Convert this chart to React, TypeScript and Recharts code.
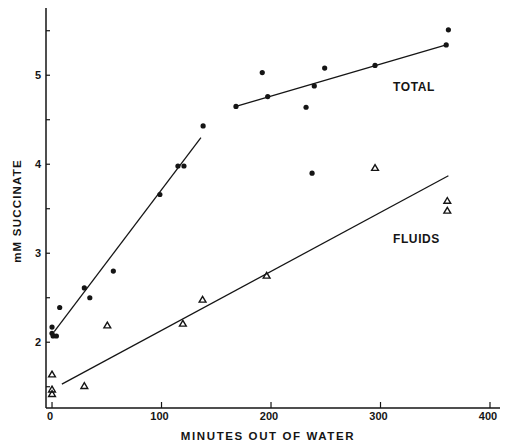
import { ComposedChart, Scatter, Line, XAxis, YAxis } from "recharts";

// total succinate (filled dots)
const totalPoints = [
  { x: 0, y: 2.1 },
  { x: 1, y: 2.07 },
  { x: 4, y: 2.07 },
  { x: 0, y: 2.17 },
  { x: 7, y: 2.39 },
  { x: 29.5, y: 2.61 },
  { x: 34.5, y: 2.5 },
  { x: 56, y: 2.8 },
  { x: 98.5, y: 3.66 },
  { x: 115, y: 3.98 },
  { x: 120.5, y: 3.98 },
  { x: 138, y: 4.43 },
  { x: 168, y: 4.65 },
  { x: 192, y: 5.03 },
  { x: 197, y: 4.76 },
  { x: 232, y: 4.64 },
  { x: 237.5, y: 3.9 },
  { x: 239.5, y: 4.88 },
  { x: 249, y: 5.08 },
  { x: 295, y: 5.11 },
  { x: 360, y: 5.34 },
  { x: 362, y: 5.51 },
];

// fluids (open triangles)
const fluidPoints = [
  { x: 0, y: 1.64 },
  { x: 0, y: 1.47 },
  { x: 0, y: 1.42 },
  { x: 29.5, y: 1.51 },
  { x: 50.5, y: 2.19 },
  { x: 119.5, y: 2.21 },
  { x: 137.5, y: 2.48 },
  { x: 196, y: 2.75 },
  { x: 295, y: 3.96 },
  { x: 361, y: 3.59 },
  { x: 361, y: 3.48 },
];

// fitted lines
const totalEarlyLine = [
  { x: 2, y: 2.12 },
  { x: 136, y: 4.3 },
];
const totalLateLine = [
  { x: 168, y: 4.65 },
  { x: 360, y: 5.34 },
];
const fluidsLine = [
  { x: 9, y: 1.53 },
  { x: 362, y: 3.87 },
];

const xTicks = [0, 100, 200, 300, 400];
const topTicks = [100, 200, 300];
const yTicks = [1.5, 2, 2.5, 3, 3.5, 4, 4.5, 5, 5.5];
const xDomain = [-5.5, 413.7];
const yDomain = [1.261, 5.761];

const INK = "#151515";
const FONT = "'Liberation Sans', Arial, sans-serif";

const Dot = (p: any) => <circle cx={p.cx} cy={p.cy} r={2.6} fill={INK} />;
const Tri = (p: any) => (
  <path
    d={`M${p.cx},${p.cy - 3.2} L${p.cx + 3.4},${p.cy + 2.6} L${p.cx - 3.4},${p.cy + 2.6} Z`}
    fill="none"
    stroke={INK}
    strokeWidth={1.4}
  />
);

const LeftTick = (p: any) => {
  const v = p.payload.value;
  const ax = p.x + 5;
  return (
    <g>
      <line x1={ax} x2={ax + 4} y1={p.y} y2={p.y} stroke={INK} strokeWidth={1.2} />
      {Number.isInteger(v) && (
        <text x={p.x} y={p.y} dy="0.35em" textAnchor="end" fontSize={11} fontWeight="bold" fill={INK} fontFamily={FONT}>
          {v}
        </text>
      )}
    </g>
  );
};

const RightTick = (p: any) => (
  <line x1={p.x} x2={p.x - 5} y1={p.y} y2={p.y} stroke={INK} strokeWidth={1.2} />
);

const BottomTick = (p: any) => (
  <g>
    <line x1={p.x} x2={p.x} y1={p.y - 4} y2={p.y - 10} stroke={INK} strokeWidth={1.2} />
    <text x={p.x - 2} y={p.y} dy="0.72em" textAnchor="middle" fontSize={11} fontWeight="bold" fill={INK} fontFamily={FONT}>
      {p.payload.value}
    </text>
  </g>
);

const TopTick = (p: any) => (
  <line x1={p.x} x2={p.x} y1={p.y} y2={p.y + 7} stroke={INK} strokeWidth={1.2} />
);

export default function App() {
  return (
    <div style={{ position: "relative", width: 500, height: 442, marginTop: -3, background: "#fff" }}>
      <ComposedChart width={500} height={442} margin={{ top: 2.5, right: 0, bottom: 0, left: 0 }}>
        <XAxis
          dataKey="x"
          type="number"
          domain={xDomain}
          allowDataOverflow
          ticks={xTicks}
          height={39}
          tickSize={0}
          tickMargin={4}
          tick={BottomTick}
          tickLine={false}
          axisLine={{ stroke: INK, strokeWidth: 1.5 }}
        />
        <XAxis
          xAxisId="top"
          orientation="top"
          dataKey="x"
          type="number"
          domain={xDomain}
          allowDataOverflow
          ticks={topTicks}
          height={0}
          tickSize={0}
          tickMargin={0}
          tick={TopTick}
          tickLine={false}
          axisLine={{ stroke: INK, strokeWidth: 1.5 }}
        />
        <YAxis
          dataKey="y"
          type="number"
          domain={yDomain}
          allowDataOverflow
          ticks={yTicks}
          width={38}
          tickSize={0}
          tickMargin={5}
          tick={LeftTick}
          tickLine={false}
          axisLine={{ stroke: INK, strokeWidth: 1.5 }}
        />
        <YAxis
          yAxisId="right"
          orientation="right"
          type="number"
          domain={yDomain}
          allowDataOverflow
          ticks={yTicks}
          width={3}
          tickSize={0}
          tickMargin={0}
          tick={RightTick}
          tickLine={false}
          axisLine={false}
        />
        <Line data={totalEarlyLine} dataKey="y" stroke={INK} strokeWidth={1.3} dot={false} isAnimationActive={false} />
        <Line data={totalLateLine} dataKey="y" stroke={INK} strokeWidth={1.3} dot={false} isAnimationActive={false} />
        <Line data={fluidsLine} dataKey="y" stroke={INK} strokeWidth={1.3} dot={false} isAnimationActive={false} />
        <Scatter data={totalPoints} dataKey="y" shape={Dot} isAnimationActive={false} />
        <Scatter data={fluidPoints} dataKey="y" shape={Tri} isAnimationActive={false} />
      </ComposedChart>
      <div style={{ position: "absolute", left: 385, top: 75, fontFamily: FONT, fontWeight: "bold", fontSize: 12, letterSpacing: 0.6, color: INK }}>
        TOTAL
      </div>
      <div style={{ position: "absolute", left: 385, top: 227, fontFamily: FONT, fontWeight: "bold", fontSize: 12, letterSpacing: 0.6, color: INK }}>
        FLUIDS
      </div>
      <div
        style={{
          position: "absolute",
          left: 170,
          top: 425,
          width: 180,
          textAlign: "center",
          fontFamily: FONT,
          fontWeight: "bold",
          fontSize: 11.5,
          letterSpacing: 1.6,
          color: INK,
          whiteSpace: "nowrap",
        }}
      >
        MINUTES OUT OF WATER
      </div>
      <div
        style={{
          position: "absolute",
          left: 9 - 60,
          top: 215 - 8 - 7,
          width: 120,
          textAlign: "center",
          transform: "rotate(-90deg)",
          fontFamily: FONT,
          fontWeight: "bold",
          fontSize: 11.5,
          letterSpacing: 1.2,
          color: INK,
          whiteSpace: "nowrap",
        }}
      >
        mM SUCCINATE
      </div>
    </div>
  );
}
